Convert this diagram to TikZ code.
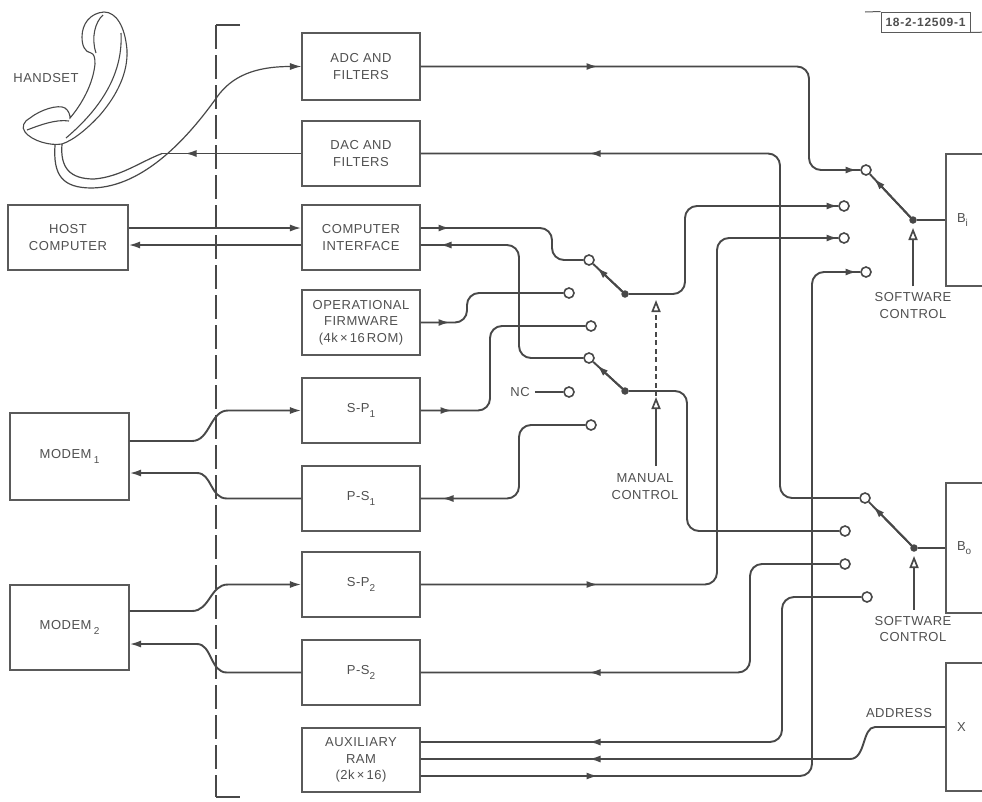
\documentclass[tikz,border=0pt]{standalone}
\usepackage{fontspec}
\usetikzlibrary{arrows.meta,calc}
\newfontfamily\lblfont[LetterSpace=4]{Liberation Sans}
\newfontfamily\tagfont[LetterSpace=6]{Liberation Sans}
\definecolor{linec}{HTML}{484848}
\definecolor{boxc}{HTML}{5a5a5a}
\definecolor{txtc}{HTML}{505050}
\newcommand\lbl{\lblfont\fontsize{13}{16.5}\selectfont}
\newcommand\lsub[1]{\raisebox{-0.6ex}{\fontsize{10}{10}\selectfont #1}}
\newcommand\rtip[2]{\draw[tip] (#1-14,#2) -- (#1,#2);}
\newcommand\ltip[2]{\draw[tip] (#1+14,#2) -- (#1,#2);}
\begin{document}
\begin{tikzpicture}[x=1pt,y=-1pt,
  box/.style={draw=boxc, line width=1.1pt, text=txtc, align=center, font=\lbl, inner sep=0pt},
  sbox/.style={box, minimum width=118pt, minimum height=65pt},
  bbox/.style={box, minimum width=60pt, text width=38pt, align=left, inner xsep=11pt},
  conn/.style={draw=linec, line width=1.9pt, rounded corners=12pt},
  endtip/.style={-{Latex[length=11.5pt,width=7pt]}},
  tip/.style={draw=linec, line width=1.9pt, -{Latex[length=11.5pt,width=7pt]}},
  contact/.style={circle, draw=linec, line width=1.6pt, fill=white, minimum size=10pt, inner sep=0pt},
  pivot/.style={circle, fill=linec, minimum size=7.5pt, inner sep=0pt},
  txt/.style={text=txtc, font=\lbl, align=center, inner sep=0pt},
  ctrl/.style={draw=linec, line width=1.7pt, -{Triangle[open,length=12pt,width=9pt]}},
  sep/.style={draw=linec, line width=1.4pt},
  hs/.style={draw=linec, line width=1.1pt}
]
\clip (0,0) rectangle (982,801);
\fill[white] (0,0) rectangle (982,801);

% ---- separator
\draw[sep] (240,25) -- (216,25);
\draw[sep, dash pattern=on 24pt off 6pt] (216,25) -- (216,797);
\draw[sep] (216,797) -- (240,797);

% ---- boxes
\node[box, minimum width=118pt, minimum height=67pt] (adc) at (361,66.5) {ADC AND\\FILTERS};
\node[sbox] (dac) at (361,153.5) {DAC AND\\FILTERS};
\node[sbox] (ci) at (361,237.5) {COMPUTER\\INTERFACE};
\node[sbox] (fw) at (361,322.5) {OPERATIONAL\\FIRMWARE\\(4k\,×\,16\,ROM)};
\node[sbox] (sp1) at (361,410.5) {S-P\lsub{1}};
\node[sbox] (ps1) at (361,498.5) {P-S\lsub{1}};
\node[sbox] (sp2) at (361,584.5) {S-P\lsub{2}};
\node[sbox] (ps2) at (361,672.5) {P-S\lsub{2}};
\node[box, minimum width=118pt, minimum height=64pt] (aux) at (361,760) {AUXILIARY\\RAM\\(2k\,×\,16)};
\node[box, minimum width=120pt, minimum height=65pt] (host) at (68,237.5) {HOST\\COMPUTER};
\node[box, minimum width=119pt, minimum height=87pt] (m1) at (69.5,456.5) {MODEM\,\lsub{1}};
\node[box, minimum width=119pt, minimum height=85pt] (m2) at (69.5,627.5) {MODEM\,\lsub{2}};
\node[bbox, minimum height=132pt] (bi) at (976,220) {B\lsub{i}};
\node[bbox, minimum height=130pt] (bo) at (976,548) {B\lsub{o}};
\node[bbox, minimum height=128pt] (xb) at (976,727) {X};

% ---- tag
\node[draw=boxc, line width=1pt, text=txtc, font=\tagfont\fontsize{12}{12}\selectfont\bfseries, minimum width=89pt, minimum height=20pt, inner sep=0pt] (tag) at (925.5,22) {18-2-12509-1};
\draw[draw=boxc, line width=1pt] (865,12) -- (tag.north west);
\draw[draw=boxc, line width=1pt] (tag.south east) -- (990,32);

% ---- contacts and pivots
\node[contact] (mu1) at (589,260) {};
\node[contact] (mu2) at (569,293) {};
\node[contact] (mu3) at (591,326) {};
\node[pivot] (mup) at (625,294) {};
\node[contact] (ml1) at (589,358) {};
\node[contact] (ml2) at (569,392) {};
\node[contact] (ml3) at (591,425) {};
\node[pivot] (mlp) at (625,391) {};
\node[contact] (bi1) at (866,170) {};
\node[contact] (bi2) at (844,206) {};
\node[contact] (bi3) at (844,238) {};
\node[contact] (bi4) at (866,272) {};
\node[pivot] (bip) at (913,220) {};
\node[contact] (bo1) at (865,498) {};
\node[contact] (bo2) at (845,531) {};
\node[contact] (bo3) at (845,564) {};
\node[contact] (bo4) at (867,597) {};
\node[pivot] (bop) at (914,548) {};

% ---- labels
\node[txt] (hslbl) at (46,78) {HANDSET};
\node[txt] (nc) at (520,392) {NC};
\node[txt] (sc1) at (913,305.5) {SOFTWARE\\CONTROL};
\node[txt] (sc2) at (913,629) {SOFTWARE\\CONTROL};
\node[txt] (mc) at (645,486.5) {MANUAL\\CONTROL};
\node[txt] (addr) at (899,713) {ADDRESS};

% ---- handset
\draw[hs, fill=white] (82,37) .. controls (82,24) and (90,13) .. (104,12)
  .. controls (116,12) and (125,26) .. (127,50)
  .. controls (128,72) and (118,94) .. (100,115)
  .. controls (88,128) and (74,140) .. (62,144)
  .. controls (50,146) and (32,141) .. (25,132)
  .. controls (21,127) and (24,121) .. (30,118)
  .. controls (40,110) and (58,104) .. (65,108)
  .. controls (69,111) and (70,115) .. (70,118)
  .. controls (82,104) and (93,84) .. (95,64)
  .. controls (95,57) and (94,54) .. (91,53)
  .. controls (85,52) and (82,46) .. (82,37) -- cycle;
\draw[hs] (121,33) .. controls (123,70) and (105,105) .. (66,138);
\draw[hs] (103,15) .. controls (95,22) and (91,38) .. (96,53);
\draw[hs] (27,130) .. controls (40,125) and (56,119) .. (69,121);
\coordinate (cordend) at (162,153.5);
\draw[hs, line width=1.2pt, endtip] (55,145) .. controls (53,175) and (62,188) .. (92,188)
  .. controls (145,187) and (190,135) .. (217,97)
  .. controls (232,76) and (255,66.5) .. (adc.west);
\draw[hs, line width=1.2pt] (62,144) .. controls (60,168) and (70,179) .. (94,179)
  .. controls (120,177) and (140,162) .. (cordend);
\draw[conn] (dac.west) -- (cordend);
\ltip{185}{153.5}

% ---- host
\draw[conn, endtip] ([yshift=9.5pt]host.east) -- ([yshift=9.5pt]ci.west);
\draw[conn, endtip] ([yshift=-7.5pt]ci.west) -- ([yshift=-7.5pt]host.east);

% ---- modems
\draw[conn, sharp corners, endtip] ([yshift=15.5pt]m1.east) -- (192,441) .. controls (210,441) and (210,410.5) .. (228,410.5) -- (sp1.west);
\draw[conn, sharp corners, endtip] (ps1.west) -- (227,498.5) .. controls (210,498.5) and (212,473) .. (197,473) -- ([yshift=-16.5pt]m1.east);
\draw[conn, sharp corners, endtip] ([yshift=16.5pt]m2.east) -- (192,611) .. controls (210,611) and (210,584.5) .. (228,584.5) -- (sp2.west);
\draw[conn, sharp corners, endtip] (ps2.west) -- (227,672.5) .. controls (210,672.5) and (212,644) .. (197,644) -- ([yshift=-16.5pt]m2.east);

% ---- main connectors
\draw[conn] (adc.east) -- (809,66.5) -- (809,170) -- (bi1.west);
\rtip{598}{66.5} \rtip{857}{170}
\draw[conn] (bo1.west) -- (780,498) -- (780,153.5) -- (dac.east);
\ltip{589}{153.5}
\draw[conn] ([yshift=9.5pt]ci.east) -- (552,228) -- (552,260) -- (mu1.west);
\rtip{450}{228}
\draw[conn] (ml1.west) -- (519,358) -- (519,245) -- ([yshift=-7.5pt]ci.east);
\ltip{440}{245}
\draw[conn] (fw.east) -- (467,322.5) -- (467,293) -- (mu2.west);
\rtip{450}{322.5}
\draw[conn] (sp1.east) -- (490,410.5) -- (490,326) -- (mu3.west);
\rtip{452}{410.5}
\draw[conn] (ml3.west) -- (519,425) -- (519,498.5) -- (ps1.east);
\ltip{442}{498.5}
\draw[conn] (mup) -- (685,294) -- (685,206) -- (bi2.west);
\rtip{838}{206}
\draw[conn] (mlp) -- (687,391) -- (687,531) -- (bo2.west);
\draw[conn] (sp2.east) -- (717,584.5) -- (717,238) -- (bi3.west);
\rtip{598}{584.5} \rtip{838}{238}
\draw[conn] (bo3.west) -- (750,564) -- (750,672.5) -- (ps2.east);
\ltip{589}{672.5}
\draw[conn] (bo4.west) -- (782,597) -- (782,742) -- ([yshift=18pt]aux.east);
\ltip{589}{742}
\draw[conn, sharp corners] (xb.west) -- (875,727) .. controls (862,727) and (866,759) .. (850,759) -- ([yshift=1pt]aux.east);
\ltip{589}{759}
\draw[conn] ([yshift=-16pt]aux.east) -- (812,776) -- (812,272) -- (bi4.west);
\rtip{598}{776} \rtip{857}{272}

% ---- NC
\draw[conn] ([xshift=5pt]nc.east) -- (ml2.west);

% ---- switch arms
\draw[conn] (mup) -- (mu1);
\draw[tip] (mup.center) -- ($(mup)!0.78!(mu1)$);
\draw[conn] (mlp) -- (ml1);
\draw[tip] (mlp.center) -- ($(mlp)!0.78!(ml1)$);
\draw[conn] (bip) -- (bi1);
\draw[tip] (bip.center) -- ($(bip)!0.83!(bi1)$);
\draw[conn] (bop) -- (bo1);
\draw[tip] (bop.center) -- ($(bop)!0.83!(bo1)$);
\draw[conn] (bip) -- (bi.west);
\draw[conn] (bop) -- (bo.west);

% ---- controls
\coordinate (sc1top) at ([yshift=6pt]sc1.north);
\coordinate (sc2top) at ([yshift=6pt]sc2.north);
\draw[ctrl] (sc1top -| bip) -- ([yshift=-8pt]bip.center);
\draw[ctrl] (sc2top -| bop) -- ([yshift=-8pt]bop.center);
\coordinate (mtop) at (656,300);
\coordinate (mmid) at (656,397);
\coordinate (mbot) at (656,466);
\draw[ctrl] (mbot) -- (mmid);
\draw[ctrl, dash pattern=on 5pt off 3.5pt] ([yshift=1pt]mmid) -- (mtop);
\end{tikzpicture}
\end{document}
